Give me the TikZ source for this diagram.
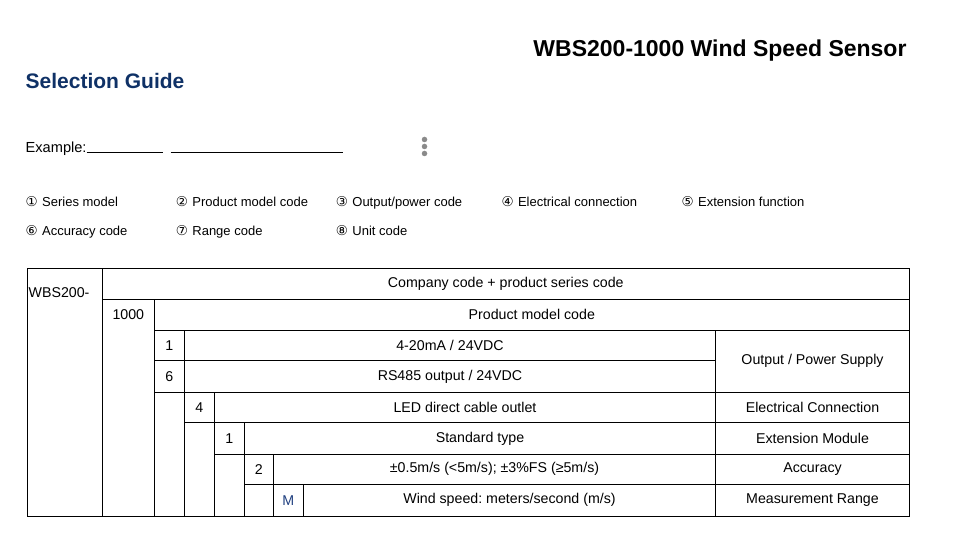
\documentclass[tikz,border=0pt]{standalone}
\usepackage{fontspec}
\setmainfont{Liberation Sans}
\newfontfamily\dvfont{DejaVu Sans}
\frenchspacing
\definecolor{guideblue}{HTML}{0F3166}
\definecolor{codeblue}{HTML}{1F3F7F}
\definecolor{dotgray}{HTML}{8A8A8A}
\newcommand\Cell[6]{\node[cellst, minimum width={#4-#2}, minimum height={#5-#3}] (#1) at ({(#2+#4)/2},{(#3+#5)/2}) {#6};}
\newcommand\Circ[1]{\makebox[16.5pt][l]{\dvfont\fontsize{13.5}{14}\selectfont #1}}
\begin{document}
\begin{tikzpicture}[x=1pt,y=-1pt,
  cellst/.style={draw=black, line width=1pt, inner sep=0pt, font=\fontsize{14.2}{16}\selectfont},
  plain/.style={inner sep=0pt, font=\fontsize{14.2}{16}\selectfont},
  legend/.style={inner sep=0pt, anchor=base west, font=\fontsize{13}{15}\selectfont},
  rule/.style={draw=black, line width=0.9pt},
  dotst/.style={circle, fill=dotgray, inner sep=0pt, minimum size=5.5pt}]
\useasboundingbox (0,0) rectangle (959,537);
% headings
\node[inner sep=0pt, anchor=base east, font=\fontsize{23}{26}\selectfont\bfseries] (title) at (906.7,56.7) {WBS200-1000 Wind Speed Sensor};
\node[inner sep=0pt, anchor=base west, font=\fontsize{21}{24}\selectfont\bfseries, text=guideblue] (guide) at (25.5,88.3) {Selection Guide};
% example line
\node[inner sep=0pt, anchor=base west, font=\fontsize{14.6}{16}\selectfont] (example) at (25.5,152.7) {Example:};
\coordinate (l1a) at (86.7,152.7);
\coordinate (l1b) at (162.7,152.7);
\coordinate (l2a) at (170.7,152.7);
\coordinate (l2b) at (342.7,152.7);
\draw[rule] (l1a) -- (l1b);
\draw[rule] (l2a) -- (l2b);
\node[dotst] (d1) at (424.5,139.5) {};
\node[dotst] (d2) at (424.5,146.5) {};
\node[dotst] (d3) at (424.5,153.5) {};
% legend
\node[legend] (g1) at (25.5,206.8) {\Circ{①}Series model};
\node[legend] (g2) at (175.7,206.8) {\Circ{②}Product model code};
\node[legend] (g3) at (335.7,206.8) {\Circ{③}Output/power code};
\node[legend] (g4) at (501.3,206.8) {\Circ{④}Electrical connection};
\node[legend] (g5) at (681.5,206.8) {\Circ{⑤}Extension function};
\node[legend] (g6) at (25.5,235.5) {\Circ{⑥}Accuracy code};
\node[legend] (g7) at (175.7,235.5) {\Circ{⑦}Range code};
\node[legend] (g8) at (335.7,235.5) {\Circ{⑧}Unit code};
% table
\Cell{wbs}{27.3}{268.3}{102.3}{516}{}
\Cell{comp}{102.3}{268.3}{909.3}{299.3}{Company code + product series code}
\Cell{k1000}{102.3}{299.3}{154.3}{516}{}
\Cell{prod}{154.3}{299.3}{909.3}{330.3}{Product model code}
\Cell{o1}{154.3}{330.3}{184.3}{360.8}{1}
\Cell{o1t}{184.3}{330.3}{715.7}{360.8}{4-20mA / 24VDC}
\Cell{o6}{154.3}{360.8}{184.3}{392.3}{6}
\Cell{o6t}{184.3}{360.8}{715.7}{392.3}{RS485 output / 24VDC}
\Cell{ops}{715.7}{330.3}{909.3}{392.3}{Output / Power Supply}
\Cell{e2}{154.3}{392.3}{184.3}{516}{}
\Cell{e4}{184.3}{392.3}{214.3}{422.7}{4}
\Cell{e4t}{214.3}{392.3}{715.7}{422.7}{LED direct cable outlet}
\Cell{ec}{715.7}{392.3}{909.3}{422.7}{Electrical Connection}
\Cell{x3}{184.3}{422.7}{214.3}{516}{}
\Cell{x1}{214.3}{422.7}{244.3}{454}{1}
\Cell{x1t}{244.3}{422.7}{715.7}{454}{Standard type}
\Cell{xm}{715.7}{422.7}{909.3}{454}{Extension Module}
\Cell{a4}{214.3}{454}{244.3}{516}{}
\Cell{a2}{244.3}{454}{273.3}{484.3}{2}
\Cell{a2t}{273.3}{454}{715.7}{484.3}{±0.5m/s (<5m/s); ±3\%FS (≥5m/s)}
\Cell{acc}{715.7}{454}{909.3}{484.3}{Accuracy}
\Cell{m5}{244.3}{484.3}{273.3}{516}{}
\Cell{mM}{273.3}{484.3}{303.3}{516}{\textcolor{codeblue}{M}}
\Cell{mt}{303.3}{484.3}{715.7}{516}{Wind speed: meters/second (m/s)}
\Cell{mr}{715.7}{484.3}{909.3}{516}{Measurement Range}
\node[plain, anchor=west] (wbst) at (28.5,292.5) {WBS200-};
\node[plain] (k1000t) at (128.3,314.8) {1000};
\end{tikzpicture}
\end{document}
